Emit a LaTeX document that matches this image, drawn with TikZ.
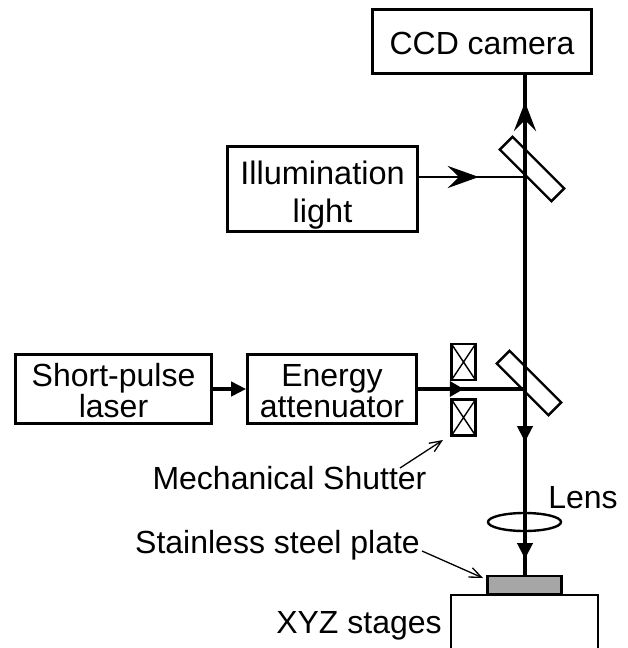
\documentclass[tikz,border=0pt]{standalone}
\usepackage{fontspec}
\setmainfont{Liberation Sans}
\usetikzlibrary{arrows.meta,shapes.geometric}
\newcommand{\lift}[1]{\rule{0pt}{#1pt}}
\begin{document}
\begin{tikzpicture}[x=1pt,y=-1pt]
        \tikzset{
          box/.style={draw,line width=2.6pt,inner sep=0pt,align=center,font=\fontsize{32}{31}\selectfont},
          caption/.style={inner sep=0pt,anchor=base,font=\fontsize{32}{31}\selectfont},
          mirror/.style={draw,line width=2.4pt,fill=white,rotate=-45,minimum width=73pt,minimum height=18pt,inner sep=0pt},
          shutter/.style={draw,line width=2.4pt,minimum width=24pt,minimum height=36pt,inner sep=0pt,
                          path picture={\draw[line width=1.4pt] (path picture bounding box.north west) -- (path picture bounding box.south east)
                                        (path picture bounding box.north east) -- (path picture bounding box.south west);}},
          optic/.style={draw,line width=2.4pt,inner sep=0pt},
          beam/.style={line width=4.8pt},
          thin beam/.style={line width=2.8pt},
          solid tip/.style={-{Triangle[length=16pt,width=15pt]}},
          open tip/.style={-{Stealth[length=31pt,width=22pt,inset=11pt]}},
          leader/.style={line width=1.3pt,-{Straight Barb[length=12pt,width=10pt]}}
        }
        \useasboundingbox (0,0) rectangle (627,648);

        \node[box,minimum width=219pt,minimum height=64pt] (camera) at (482,41.5)  {\lift{27}CCD camera};
        \node[box,minimum width=190pt,minimum height=85pt,font=\fontsize{32.5}{38}\selectfont] (light)  at (322.5,189) {\lift{35}Illumination\\light};
        \node[box,minimum width=196pt,minimum height=69pt] (laser)  at (113.5,389) {\lift{26}Short-pulse\\laser};
        \node[box,minimum width=169pt,minimum height=69pt] (atten)  at (332,389) {\lift{26}Energy\\attenuator};
        \node[mirror] (upper) at (532,169) {}; % beam splitters
        \node[mirror] (lower) at (529,383) {};
        \node[shutter] (topshut) at (463.5,362) {};
        \node[shutter] (botshut) at (463.5,417.5) {};
        \node[optic,ellipse,minimum width=73pt,minimum height=18pt] (lens) at (524.5,522) {};
        \node[optic,fill=black!35,minimum width=74pt,minimum height=18pt] (plate) at (524.5,585) {};
        \node[optic,minimum width=147pt,minimum height=60pt,anchor=north] (stage) at (524.5,594) {};

        \coordinate (hit1) at (525,177);
        \coordinate (hit2) at (525,389);
        \coordinate (shutfoot) at (400,468);
        \coordinate (shuttip)  at (443,440);
        \coordinate (platefoot) at (422,551);
        \coordinate (platetip)  at (483,578);

        \node[caption] (shutname)  at (289.5,489) {Mechanical Shutter};
        \node[caption] (lensname)  at (583,508)   {Lens};
        \node[caption] (platename) at (277.5,553) {Stainless steel plate};
        \node[caption] (stagename) at (359,633)   {XYZ stages};

        \path (hit1) -- ++(0,-75) coordinate (uptip);
        \draw[beam] (hit2) -- (hit1 |- camera.south);
        \draw[beam,-{Stealth[length=29pt,width=22pt,inset=11pt]}] (hit1) -- (uptip);
        \draw[beam] (hit2) -- (hit2 |- plate.north);
        \path (hit2) -- ++(0,53) coordinate (downtip);
        \draw[beam,solid tip] (hit2) -- (downtip);
        \path (hit2) -- ++(0,170) coordinate (platearrow);
        \draw[beam,solid tip] (downtip) -- (platearrow);
        \draw[thin beam] (light.east |- hit1) -- (hit1);
        \path (light.east |- hit1) -- ++(60,0) coordinate (lighttip);
        \draw[thin beam,open tip] (light.east |- hit1) -- (lighttip);
        \draw[beam] (atten.east) -- (hit2);
        \path (atten.east) -- ++(46,0) coordinate (shuttertip);
        \draw[beam,-{Triangle[length=14pt,width=15pt]}] (atten.east) -- (shuttertip);
        \draw[beam,-{Triangle[length=15pt,width=14pt]}] (laser.east) -- (atten.west);

        \draw[leader] (shutfoot) -- (shuttip);
        \draw[leader] (platefoot) -- (platetip);
\end{tikzpicture}
\end{document}
